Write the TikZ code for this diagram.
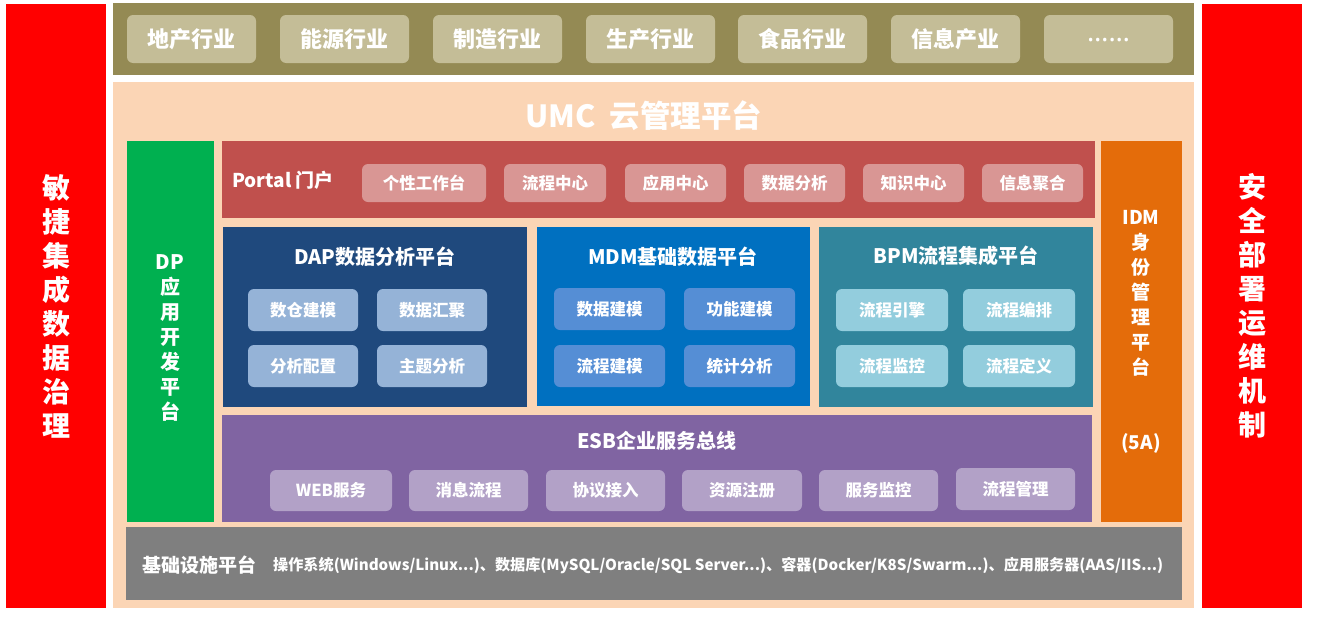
\documentclass[tikz,border=0pt]{standalone}
\usepackage{fontspec}
\setmainfont{Noto Sans CJK SC}
\newfontfamily\latinf{Noto Sans}
\definecolor{cred}{HTML}{FF0000}
\definecolor{colive}{HTML}{948A54}
\definecolor{colivep}{HTML}{C4BD97}
\definecolor{cpeach}{HTML}{FBD5B5}
\definecolor{cgreen}{HTML}{00B050}
\definecolor{cportal}{HTML}{C0504D}
\definecolor{cportalp}{HTML}{D99694}
\definecolor{cdap}{HTML}{1F497D}
\definecolor{cdapp}{HTML}{95B3D7}
\definecolor{cmdm}{HTML}{0070C0}
\definecolor{cmdmp}{HTML}{558ED5}
\definecolor{cbpm}{HTML}{31859C}
\definecolor{cbpmp}{HTML}{93CDDD}
\definecolor{cesb}{HTML}{8064A2}
\definecolor{cesbp}{HTML}{B2A1C7}
\definecolor{cidm}{HTML}{E46C0A}
\definecolor{cgray}{HTML}{7F7F7F}
\newcommand\fsz[1]{\bfseries\fontsize{#1}{#1}\selectfont}
\newcommand\vfs[2]{\bfseries\fontsize{#1}{#2}\selectfont}
% name, color, x1, y1, x2, y2, style, text
\newcommand\rbox[8]{\node[#7, fill=#2, minimum width={#5pt-#3pt}, minimum height={#6pt-#4pt}, anchor=north west] (#1) at (#3,#4) {#8};}
\begin{document}
\begin{tikzpicture}[x=1pt,y=-1pt,
  box/.style={inner sep=0pt, outer sep=0pt, draw=none},
  pill/.style={inner sep=0pt, outer sep=0pt, draw=none, rounded corners=6pt, text=white, font=\fsz{16.5}},
  bigpill/.style={pill, font=\fsz{22}},
  lbl/.style={inner sep=0pt, text=white, align=center},
  vert/.style={lbl, font=\vfs{28}{34}},
]
\useasboundingbox (0,0) rectangle (1329,616);
\fill[white] (0,0) rectangle (1329,616);
% side bars
\rbox{lred}{cred}{6}{4}{106}{608}{box}{}
\rbox{rred}{cred}{1202}{4}{1302}{608}{box}{}
\node[vert] (ltxt) at (lred.center) {敏\\捷\\集\\成\\数\\据\\治\\理};
\node[vert] (rtxt) at (rred.center) {安\\全\\部\\署\\运\\维\\机\\制};
% industries
\rbox{ind}{colive}{113}{3}{1194}{75}{box}{}
\rbox{i1}{colivep}{127}{15}{256}{63}{bigpill}{地产行业}
\rbox{i2}{colivep}{280}{15}{409}{63}{bigpill}{能源行业}
\rbox{i3}{colivep}{433}{15}{562}{63}{bigpill}{制造行业}
\rbox{i4}{colivep}{586}{15}{715}{63}{bigpill}{生产行业}
\rbox{i5}{colivep}{738}{15}{867}{63}{bigpill}{食品行业}
\rbox{i6}{colivep}{891}{15}{1020}{63}{bigpill}{信息产业}
\rbox{i7}{colivep}{1044}{15}{1173}{63}{bigpill}{\raisebox{-6pt}{\latinf\bfseries\fontsize{27}{27}\selectfont ……}}
% UMC platform
\rbox{umc}{cpeach}{113}{82}{1194}{608}{box}{}
\node[lbl, font=\fsz{30.5}] (umct) at (644,116) {UMC\ \ 云管理平台};
% DP
\rbox{dp}{cgreen}{127}{141}{214}{522}{box}{}
\node[lbl, font=\vfs{20}{25}] (dpt) at (170,338) {DP\\应\\用\\开\\发\\平\\台};
% IDM
\rbox{idm}{cidm}{1101}{141}{1182}{522}{box}{}
\node[lbl, font=\vfs{19}{25}] (idmt) at (1141,293) {IDM\\身\\份\\管\\理\\平\\台};
\node[lbl, font=\fsz{19}] (idm5) at (1141,443) {(5A)};
% Portal
\rbox{portal}{cportal}{222}{141}{1095}{218}{box}{}
\node[lbl, anchor=west, font=\fsz{19}] (portalt) at (232,180) {Portal 门户};
\rbox{p1}{cportalp}{362}{164}{486}{202}{pill}{个性工作台}
\rbox{p2}{cportalp}{504}{164}{606}{202}{pill}{流程中心}
\rbox{p3}{cportalp}{625}{164}{726}{202}{pill}{应用中心}
\rbox{p4}{cportalp}{744}{164}{845}{202}{pill}{数据分析}
\rbox{p5}{cportalp}{863}{164}{964}{202}{pill}{知识中心}
\rbox{p6}{cportalp}{982}{164}{1083}{202}{pill}{信息聚合}
% DAP
\rbox{dap}{cdap}{223}{227}{527}{407}{box}{}
\node[lbl, font=\fsz{20}] (dapt) at (375,257) {DAP数据分析平台};
\rbox{d1}{cdapp}{248}{289}{358}{331}{pill}{数仓建模}
\rbox{d2}{cdapp}{377}{289}{487}{331}{pill}{数据汇聚}
\rbox{d3}{cdapp}{248}{345}{358}{387}{pill}{分析配置}
\rbox{d4}{cdapp}{377}{345}{487}{387}{pill}{主题分析}
% MDM
\rbox{mdm}{cmdm}{537}{227}{810}{406}{box}{}
\node[lbl, font=\fsz{20}] (mdmt) at (673,257) {MDM基础数据平台};
\rbox{m1}{cmdmp}{554}{288}{665}{330}{pill}{数据建模}
\rbox{m2}{cmdmp}{684}{288}{795}{330}{pill}{功能建模}
\rbox{m3}{cmdmp}{554}{345}{665}{387}{pill}{流程建模}
\rbox{m4}{cmdmp}{684}{345}{795}{387}{pill}{统计分析}
% BPM
\rbox{bpm}{cbpm}{819}{227}{1093}{407}{box}{}
\node[lbl, font=\fsz{20}] (bpmt) at (956,256) {BPM流程集成平台};
\rbox{b1}{cbpmp}{836}{289}{948}{331}{pill}{流程引擎}
\rbox{b2}{cbpmp}{963}{289}{1075}{331}{pill}{流程编排}
\rbox{b3}{cbpmp}{836}{345}{948}{387}{pill}{流程监控}
\rbox{b4}{cbpmp}{963}{345}{1075}{387}{pill}{流程定义}
% ESB
\rbox{esb}{cesb}{222}{415}{1092}{522}{box}{}
\node[lbl, font=\fsz{20}] (esbt) at (657,441) {ESB企业服务总线};
\rbox{e1}{cesbp}{270}{470}{392}{511}{pill}{WEB服务}
\rbox{e2}{cesbp}{409}{470}{528}{511}{pill}{消息流程}
\rbox{e3}{cesbp}{546}{470}{665}{511}{pill}{协议接入}
\rbox{e4}{cesbp}{682}{470}{802}{511}{pill}{资源注册}
\rbox{e5}{cesbp}{819}{470}{938}{511}{pill}{服务监控}
\rbox{e6}{cesbp}{956}{468}{1075}{510}{pill}{流程管理}
% infrastructure
\rbox{infra}{cgray}{126}{527}{1182}{600}{box}{}
\node[lbl, anchor=west, font=\fsz{19}] (infrat) at (142,565) {基础设施平台};
\node[lbl, anchor=west, font=\fsz{14}] (infrad) at (273,566) {\resizebox{890pt}{!}{操作系统(Windows/Linux...)、数据库(MySQL/Oracle/SQL Server...)、容器(Docker/K8S/Swarm...)、应用服务器(AAS/IIS...)}};
\end{tikzpicture}
\end{document}
